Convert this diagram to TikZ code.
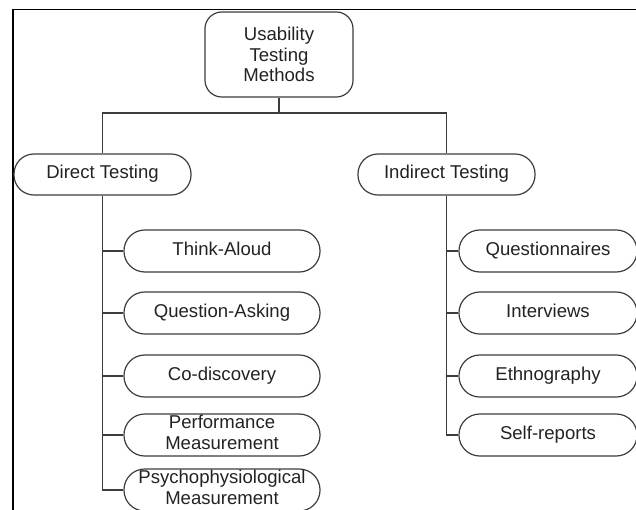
\documentclass[tikz,border=0pt]{standalone}
\usepackage{fontspec}
\setmainfont{Liberation Sans}
\usepackage{xcolor}
\usetikzlibrary{positioning}

\definecolor{boxline}{HTML}{3C3C3C}
\definecolor{boxtext}{HTML}{222222}

\tikzset{
  topbox/.style={draw=boxline, line width=0.85pt, rectangle, rounded corners=0.42cm,
    minimum width=3.7cm, minimum height=2.125cm, inner sep=0pt, align=center,
    text=boxtext, font=\fontsize{13.2}{14.4}\selectfont},
  groupbox/.style={draw=boxline, line width=0.85pt, rectangle, rounded corners=0.5cm,
    minimum width=4.425cm, minimum height=1.025cm, inner sep=0pt, align=center,
    text=boxtext, font=\fontsize{13.2}{15}\selectfont,
    execute at begin node=\strut, execute at end node=\strut},
  method/.style={draw=boxline, line width=0.85pt, rectangle, rounded corners=0.52cm,
    minimum width=4.9cm, minimum height=1.05cm, inner sep=0pt, align=center,
    text=boxtext, font=\fontsize{13.2}{15}\selectfont,
    execute at begin node=\strut, execute at end node=\strut},
  link/.style={draw=boxline, line width=0.9pt}
}

\begin{document}
\begin{tikzpicture}[x=0.025cm, y=-0.025cm]
\useasboundingbox (0,0) rectangle (636,510);
% outer frame (cut by the page)
\draw[line width=1.4pt] (13,510) -- (13,9.5) -- (636,9.5);

% root and the two groups
\node[topbox] (root) at (279,54.5) {Usability\\Testing\\Methods};
\node[groupbox] (direct) at (102.5,174.5) {Direct Testing};
\node[groupbox] (indirect) at (446.5,174.5) {Indirect Testing};
\coordinate (split) at (279,113);
\draw[link] (root.south) -- (split);
\draw[link] (direct.north) |- (split) -| (indirect.north);

% direct testing methods
\foreach \name/\y/\txt in {think/251/Think-Aloud, ask/313/Question-Asking,
    codisc/376/Co-discovery, perf/435/{Performance\\Measurement},
    psych/490/{Psychophysiological\\Measurement}}
  \node[method] (\name) at (222,\y) {\txt};
\draw[link] (direct.south) |- (psych.west);
\foreach \name in {think,ask,codisc,perf}
  \draw[link] (direct.south |- \name.west) -- (\name.west);

% indirect testing methods
\foreach \name/\y/\txt in {quest/251/Questionnaires, inter/313/Interviews,
    ethno/376/Ethnography, selfrep/435/Self-reports}
  \node[method, minimum width=4.45cm] (\name) at (548,\y) {\txt};
\draw[link] (indirect.south) |- (selfrep.west);
\foreach \name in {quest,inter,ethno}
  \draw[link] (indirect.south |- \name.west) -- (\name.west);
\end{tikzpicture}
\end{document}
